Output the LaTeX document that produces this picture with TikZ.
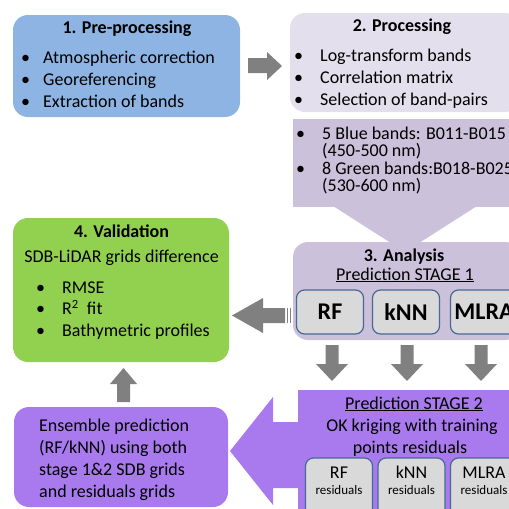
\documentclass[tikz,border=0pt]{standalone}
\usepackage{fontspec}
\setmainfont{Carlito}
\definecolor{preblue}{RGB}{141,180,226}
\definecolor{proclav}{RGB}{228,223,236}
\definecolor{analav}{RGB}{204,193,218}
\definecolor{valgreen}{RGB}{146,208,80}
\definecolor{enspurple}{RGB}{168,122,238}
\definecolor{arrgray}{RGB}{128,128,128}
\definecolor{subgray}{RGB}{217,217,217}
\definecolor{subframe}{RGB}{70,105,150}
\newcommand\itm[2]{\makebox[#1][l]{\textbullet}#2}

\begin{document}
\begin{tikzpicture}[x=1pt,y=-1pt,
  panel/.style={rounded corners=15pt,inner sep=0pt},
  flat/.style={inner sep=0pt},
  ttl/.style={font=\fontsize{18}{22}\selectfont\bfseries,inner sep=0pt,anchor=base},
  mid/.style={font=\fontsize{18}{22}\selectfont,inner sep=0pt,anchor=base},
  txt/.style={font=\fontsize{18}{22}\selectfont,inner sep=0pt,anchor=base west},
  small/.style={font=\fontsize{13}{15}\selectfont,inner sep=0pt,anchor=base},
  model/.style={draw=subframe,line width=1.2pt,fill=subgray,rounded corners=8pt,
    minimum width=67,minimum height=44,inner sep=0pt,font=\fontsize{24}{28}\selectfont\bfseries},
  resid/.style={model,minimum height=62},
  blockarr/.style={fill=arrgray},
]
  \useasboundingbox (0,0) rectangle (509,509);
  \clip (0,0) rectangle (509,509);

  \node[panel,fill=preblue,minimum width=227,minimum height=102] (pre) at (126.5,66) {};
  \node[ttl] (preT) at (127,33) {1. Pre-processing};
  \foreach \t [count=\i] in {Atmospheric correction,Georeferencing,Extraction of bands}
    \node[txt] (pre\i) at (21,41+22*\i) {\itm{22pt}{\t}};

  \fill[blockarr] (248,58) -- (267,58) -- (267,52) -- (282,66) -- (267,80) -- (267,73) -- (248,73) -- cycle;

  \node[panel,fill=proclav,minimum width=230,minimum height=99] (proc) at (405,62.5) {};
  \node[ttl] (procT) at (402,31) {2. Processing};
  \foreach \t [count=\i] in {Log-transform bands,Correlation matrix,Selection of band-pairs}
    \node[txt] (proc\i) at (294,39+22*\i) {\itm{26pt}{\t}};

  \node[flat,fill=analav,minimum width=227,minimum height=88] (bands) at (406.5,163) {};
  \fill[analav] (333,206) -- (477,206) -- (405,252) -- cycle;
  \node[txt] (band1) at (296,139) {\itm{26pt}{5 Blue bands: B011-B015}};
  \node[txt] (band2) at (322,156.5) {(450-500 nm)};
  \node[txt] (band3) at (296,174) {\itm{26pt}{8 Green bands:B018-B025}};
  \node[txt] (band4) at (322,191.5) {(530-600 nm)};

  \node[panel,fill=analav,minimum width=227,minimum height=98] (ana) at (406.5,291) {};
  \node[ttl] (anaT) at (404,261) {3. Analysis};
  \node[mid] (stage1) at (405,280) {\underline{Prediction STAGE 1}};
  \foreach \m/\x in {RF/330,kNN/406,MLRA/484}
    \node[model] (m-\m) at (\x,312) {\m};

  \fill[blockarr] (232,315.5) -- (263,298) -- (263,308) -- (285,308) -- (285,323) -- (263,323) -- (263,333) -- cycle;
  \fill[blockarr] (286.5,308) rectangle (288,323);
  \fill[blockarr] (289.5,308) rectangle (291,323);

  \node[panel,fill=valgreen,minimum width=216,minimum height=144] (val) at (121,290) {};
  \node[ttl] (valT) at (121.5,237) {4. Validation};
  \node[mid] (valS) at (121.5,262) {SDB-LiDAR grids difference};
  \foreach \t [count=\i] in {RMSE,R\textsuperscript{2}~ fit,Bathymetric profiles}
    \node[txt] (val\i) at (36,271.5+21.5*\i) {\itm{26pt}{\t}};

  \foreach \x in {332,407,481}
    \fill[blockarr] (\x-6.5,345) -- (\x+6.5,345) -- (\x+6.5,364) -- (\x+16,364) -- (\x,381)
      -- (\x-16,364) -- (\x-6.5,364) -- cycle;

  \fill[blockarr] (117,402) -- (130,402) -- (130,384) -- (137,384) -- (123.5,368) -- (110,384) -- (117,384) -- cycle;

  \node[panel,fill=enspurple,minimum width=214,minimum height=100] (ens) at (121,457) {};
  \foreach \t [count=\i] in {Ensemble prediction,(RF/kNN) using both,stage 1\&2 SDB grids,and residuals grids}
    \node[txt] (ens\i) at (39,409+22*\i) {\t};

  \node[flat,fill=enspurple,minimum width=232,minimum height=130] (stage2) at (414,455) {};
  \fill[enspurple] (299,422) -- (273,422) -- (273,397) -- (230,451) -- (273,505) -- (273,488) -- (299,488) -- cycle;
  \node[mid] (stage2T) at (414,409) {\underline{Prediction STAGE 2}};
  \node[mid] (ok1) at (412,431) {OK kriging with training};
  \node[mid] (ok2) at (410,453) {points residuals};
  \foreach \m/\x in {RF/339,kNN/411.5,MLRA/484} {
    \node[resid] (r-\m) at (\x,489) {};
    \node[mid] (rt-\m) at (\x,478) {\m};
    \node[small] (rs-\m) at (\x,494) {residuals};
  }
\end{tikzpicture}
\end{document}
